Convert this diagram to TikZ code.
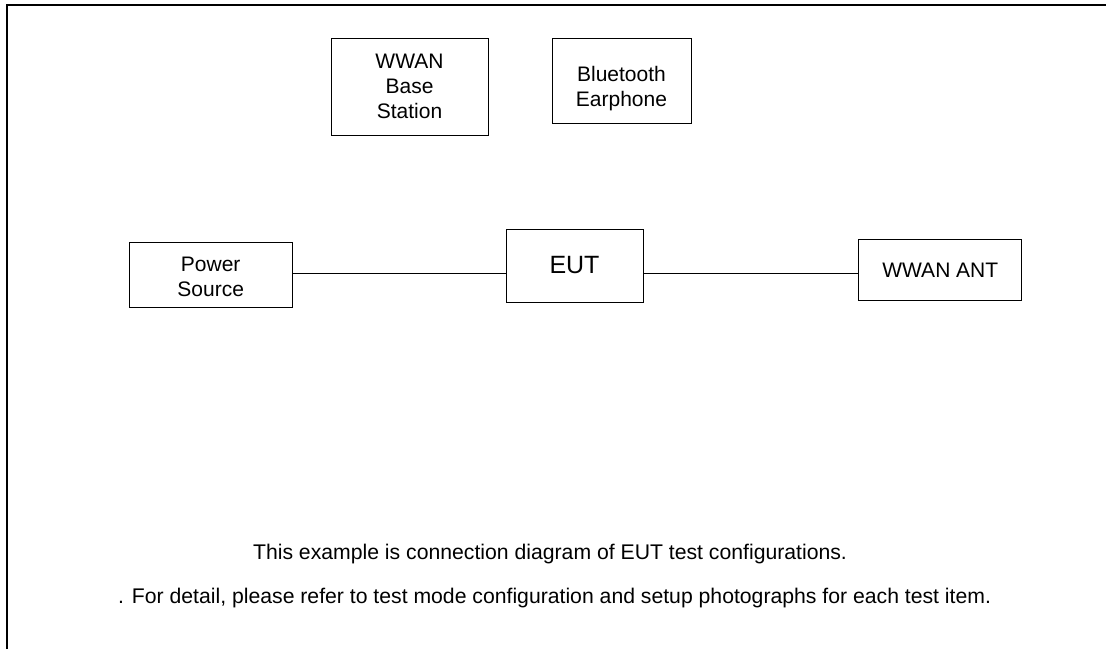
\documentclass[tikz,border=0pt]{standalone}
\usepackage{fontspec}
\setmainfont{Liberation Sans}
\begin{document}
\begin{tikzpicture}[x=1pt,y=-1pt,
  box/.style={draw,line width=1pt,inner sep=0pt,rectangle},
  txt/.style={inner sep=0pt,align=center,font=\fontsize{21}{25}\selectfont},
  notetxt/.style={inner sep=0pt,font=\fontsize{21.2}{25}\selectfont},
  bigtxt/.style={inner sep=0pt,font=\fontsize{25}{30}\selectfont},
  frame/.style={line width=2pt}]
\useasboundingbox (0,0) rectangle (1106,649);
\fill[white] (0,0) rectangle (1106,649);
% outer frame (open at right and bottom)
\draw[frame] (6.7,649) -- (6.7,5) -- (1106,5);
% boxes
\node[box,minimum width=157pt,minimum height=97pt] (bs) at (409.5,86.5) {};
\node[box,minimum width=139pt,minimum height=85pt] (bt) at (621.5,80.5) {};
\node[box,minimum width=162.7pt,minimum height=65pt] (pwr) at (210.7,274.8) {};
\node[box,minimum width=137pt,minimum height=72.7pt] (eut) at (574.5,265.7) {};
\node[box,minimum width=162.7pt,minimum height=60.7pt] (ant) at (940.3,270.3) {};
% texts
\node[txt] (bstxt) at (409.5,86) {WWAN\\Base\\Station};
\node[txt] (bttxt) at (621.5,89) {Bluetooth\\Earphone};
\node[txt] (pwrtxt) at (210.7,277) {Power\\Source};
\node[bigtxt,anchor=base] (euttxt) at (574.5,273.3) {EUT};
\node[txt,anchor=base] (anttxt) at (940.3,277.5) {WWAN ANT};
% connectors
\coordinate (ly) at (0,273.7);
\draw[line width=1pt] (pwr.east |- ly) -- (eut.west |- ly);
\draw[line width=1pt] (eut.east |- ly) -- (ant.west |- ly);
% notes
\node[notetxt,anchor=base] (note1) at (550,559) {This example is connection diagram of EUT test configurations.};
\node[notetxt,anchor=base west] (note2) at (118,603) {. For detail, please refer to test mode configuration and setup photographs for each test item.};
\end{tikzpicture}
\end{document}
